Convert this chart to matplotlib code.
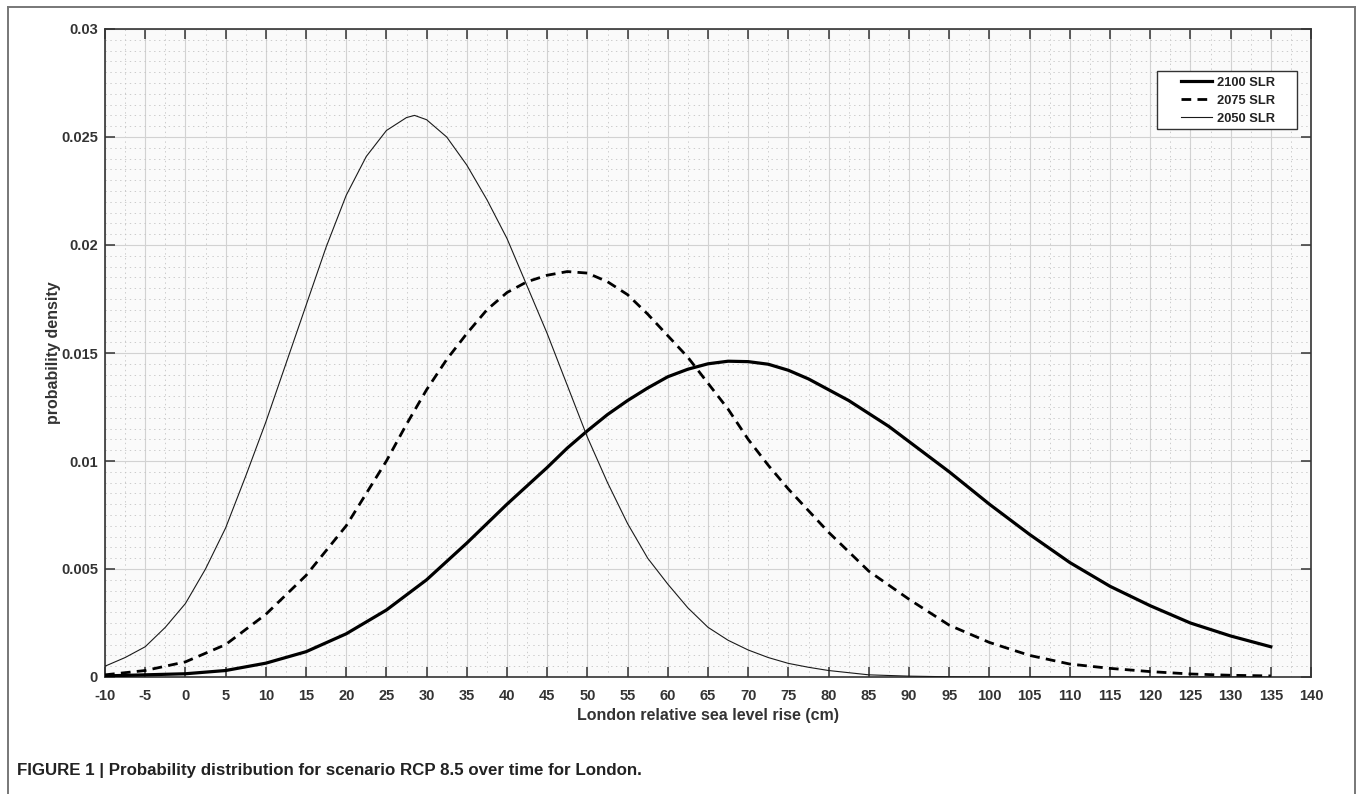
import matplotlib
matplotlib.use("Agg")
import matplotlib.pyplot as plt
from matplotlib.lines import Line2D
from matplotlib.patches import Rectangle
from matplotlib.ticker import MultipleLocator

plt.rcParams['font.family'] = ['Liberation Sans', 'DejaVu Sans']
plt.rcParams['lines.scale_dashes'] = False

# ---- data ----
x_2100 = [-10, -5, 0, 5, 10, 15, 20, 25, 30, 35, 40, 45, 47.5, 50, 52.5, 55, 57.5, 60,
          62.5, 65, 67.5, 70, 72.5, 75, 77.5, 80, 82.5, 85, 87.5, 90, 92.5, 95, 100,
          105, 110, 115, 120, 125, 130, 135]
y_2100 = [0.00005, 0.0001, 0.00015, 0.0003, 0.00064, 0.00117, 0.0020, 0.0031,
          0.0045, 0.0062, 0.0080, 0.0097, 0.0106, 0.0114, 0.01215, 0.0128, 0.01338,
          0.0139, 0.01425, 0.0145, 0.01462, 0.0146, 0.01448, 0.0142, 0.0138, 0.0133,
          0.0128, 0.0122, 0.0116, 0.0109, 0.0102, 0.0095, 0.0080, 0.0066, 0.0053,
          0.0042, 0.0033, 0.0025, 0.0019, 0.0014]

x_2075 = [-10, -5, 0, 5, 10, 15, 20, 25, 27.5, 30, 32.5, 35, 37.5, 40, 42.5, 45, 47.5,
          50, 52.5, 55, 57.5, 60, 62.5, 65, 67.5, 70, 72.5, 75, 77.5, 80, 85, 90, 95,
          100, 105, 110, 115, 120, 125, 130, 135]
y_2075 = [0.0001, 0.0003, 0.0007, 0.0015, 0.0029, 0.0047, 0.0070, 0.0100, 0.0117,
          0.0133, 0.0147, 0.0159, 0.0170, 0.0178, 0.0183, 0.0186, 0.01877, 0.0187,
          0.0183, 0.0177, 0.0168, 0.0158, 0.0148, 0.0136, 0.0124, 0.0110, 0.0098,
          0.0087, 0.0077, 0.0067, 0.0049, 0.0036, 0.0024, 0.0016, 0.0010, 0.0006,
          0.0004, 0.00025, 0.00014, 0.00008, 0.00005]

x_2050 = [-10, -7.5, -5, -2.5, 0, 2.5, 5, 7.5, 10, 12.5, 15, 17.5, 20, 22.5, 25, 27.5,
          28.5, 30, 32.5, 35, 37.5, 40, 42.5, 45, 47.5, 50, 52.5, 55, 57.5, 60, 62.5,
          65, 67.5, 70, 72.5, 75, 77.5, 80, 82.5, 85, 90, 95, 100, 110, 120, 135]
y_2050 = [0.0005, 0.0009, 0.0014, 0.0023, 0.0034, 0.0050, 0.0069, 0.0093, 0.0118,
          0.0145, 0.0172, 0.0199, 0.0223, 0.0241, 0.0253, 0.0259, 0.0260, 0.0258,
          0.0250, 0.0237, 0.0221, 0.0203, 0.0181, 0.0159, 0.0135, 0.0111, 0.0090,
          0.0071, 0.0055, 0.0043, 0.0032, 0.0023, 0.0017, 0.00125, 0.0009, 0.00063,
          0.00045, 0.0003, 0.0002, 0.0001, 0.00004, 0.00001, 0.0, 0.0, 0.0, 0.0]

series_labels = ["2100 SLR", "2075 SLR", "2050 SLR"]

x_ticks = list(range(-10, 141, 5))
x_ticklabels = [str(v) for v in x_ticks]
y_ticks = [0, 0.005, 0.01, 0.015, 0.02, 0.025, 0.03]
y_ticklabels = ["0", "0.005", "0.01", "0.015", "0.02", "0.025", "0.03"]

x_label = "London relative sea level rise (cm)"
y_label = "probability density"
caption = "FIGURE 1 | Probability distribution for scenario RCP 8.5 over time for London."

# ---- figure ----
W, H = 1357, 794
fig = plt.figure(figsize=(W / 100, H / 100), dpi=100)
fig.patch.set_facecolor('white')

l, r, t, b = 105, 1311, 29, 677
ax = fig.add_axes([l / W, 1 - b / H, (r - l) / W, (b - t) / H])
ax.set_facecolor('#fafafa')

ax.plot(x_2100, y_2100, color='black', lw=2.3, label=series_labels[0], zorder=3,
        solid_joinstyle='round')
ax.plot(x_2075, y_2075, color='black', lw=2.0, dashes=(7, 4.5),
        label=series_labels[1], zorder=3)
ax.plot(x_2050, y_2050, color='#1a1a1a', lw=0.8, label=series_labels[2], zorder=3,
        solid_joinstyle='round')

ax.set_xlim(-10, 140)
ax.set_ylim(0, 0.03)
ax.set_xticks(x_ticks)
ax.set_xticklabels(x_ticklabels)
ax.set_yticks(y_ticks)
ax.set_yticklabels(y_ticklabels)
ax.xaxis.set_minor_locator(MultipleLocator(2.5))
ax.yaxis.set_minor_locator(MultipleLocator(0.0005))

ax.grid(which='major', color='#d2d2d2', lw=0.8, ls='-', zorder=0)
ax.grid(which='minor', color='#c4c4c4', lw=0.6, ls=(0, (1, 2.5)), zorder=0)
ax.set_axisbelow(True)

ax.tick_params(which='major', direction='in', length=7, width=1.1, color='#333333',
               top=True, right=True, labelsize=10.5, labelcolor='#333333')
ax.tick_params(axis='x', pad=9)
ax.tick_params(axis='y', pad=5)
ax.tick_params(which='minor', length=0, top=True, right=True)
for lab in ax.get_xticklabels() + ax.get_yticklabels():
    lab.set_fontweight('bold')

for sp in ax.spines.values():
    sp.set_color('#333333')
    sp.set_linewidth(1.2)

ax.set_xlabel(x_label, fontsize=11.5, fontweight='bold', color='#333333', labelpad=3)
ax.set_ylabel(y_label, fontsize=11.5, fontweight='bold', color='#333333', labelpad=0)

tr = fig.transFigure
leg = ax.legend(loc='upper right', bbox_to_anchor=(1275 / W, 1 - 76.5 / H),
                bbox_transform=tr, borderaxespad=0, borderpad=0, frameon=False,
                prop={'weight': 'bold', 'size': 9.3}, handlelength=2.4,
                handletextpad=0.4, labelspacing=0.47)
leg.set_zorder(6)
for txt in leg.get_texts():
    txt.set_color('#222222')
# legend box (MATLAB style, wide padding)
box = Rectangle((1157 / W, 1 - 129 / H), 140 / W, 58 / H, transform=tr,
                facecolor='white', edgecolor='#333333', lw=1.0, zorder=5)
box.set_clip_on(False)
ax.add_patch(box)

# outer frame (left, top, right) of the figure panel
fx0, fx1, fy_top = 7.5 / W, 1354.5 / W, 1 - 6.5 / H
fig.add_artist(Line2D([fx0, fx0], [0, fy_top], transform=tr, color='#777777', lw=1.4))
fig.add_artist(Line2D([fx0, fx1], [fy_top, fy_top], transform=tr, color='#777777', lw=1.4))
fig.add_artist(Line2D([fx1, fx1], [0, fy_top], transform=tr, color='#777777', lw=1.4))

fig.text(17 / W, 1 - 770 / H, caption, fontsize=12.2, fontweight='bold',
         color='#222222', ha='left', va='center')

fig.savefig('out.png', dpi=100)
